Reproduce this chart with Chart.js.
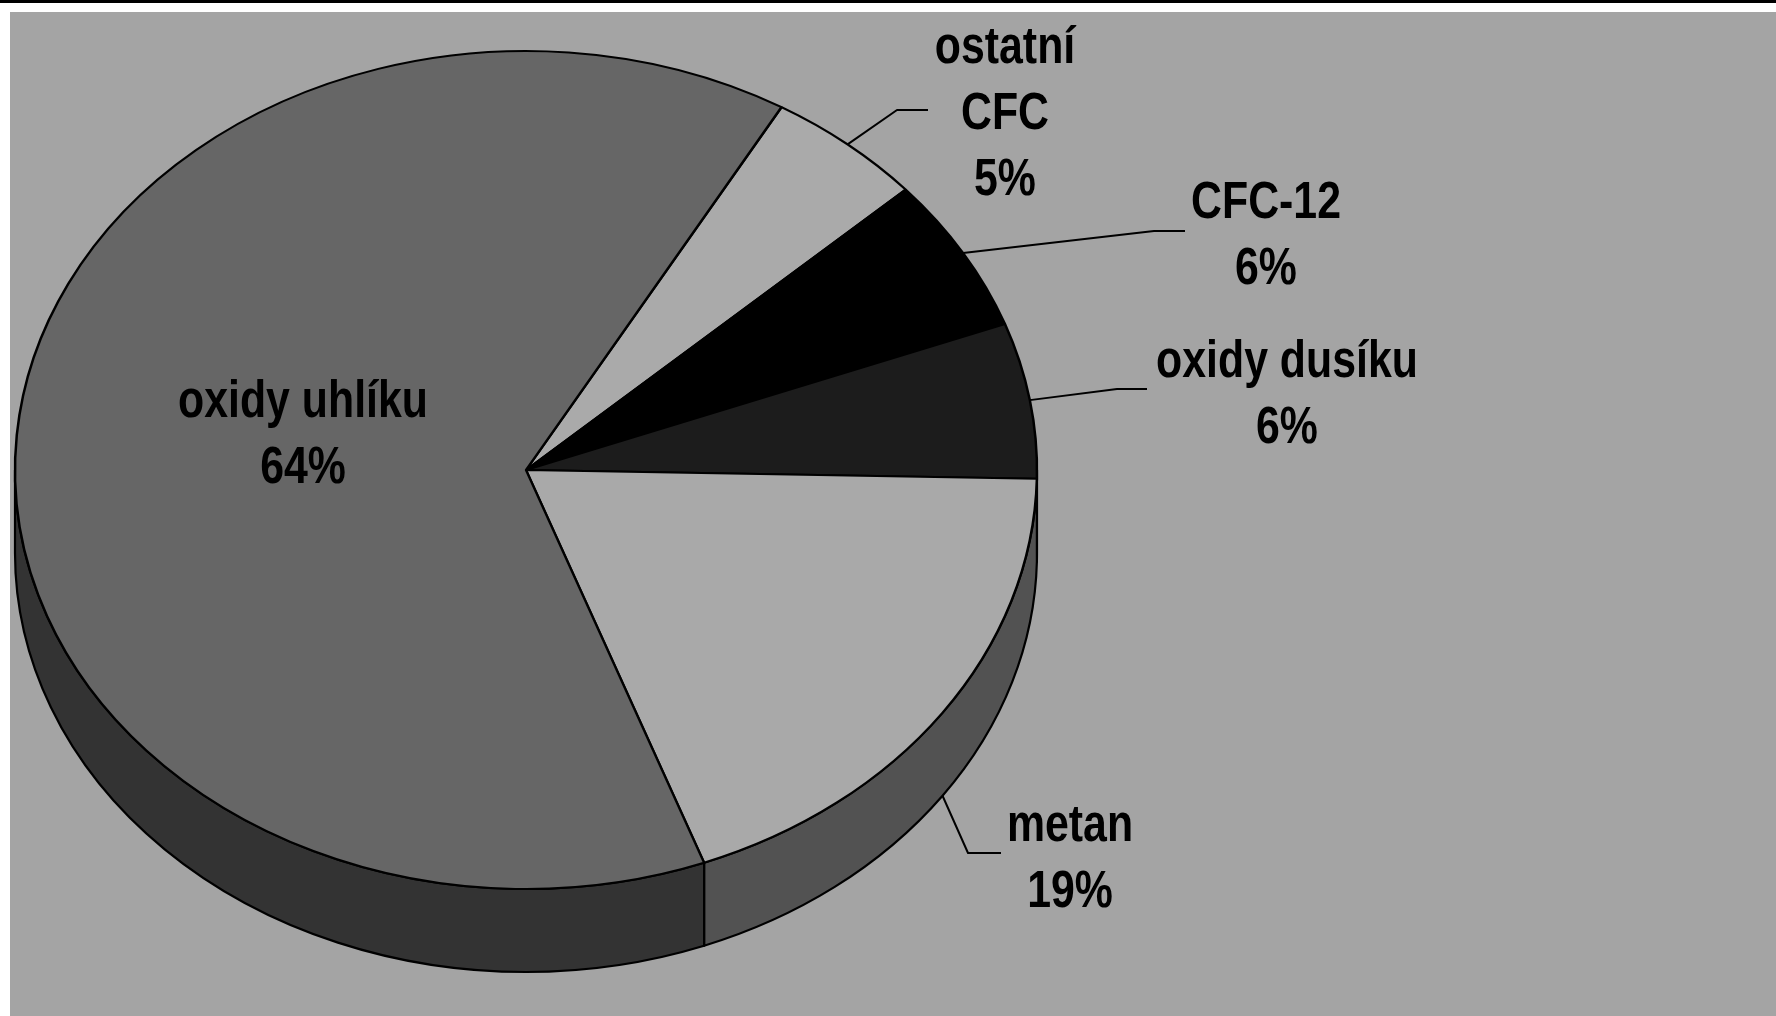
<!DOCTYPE html>
<html>
<head>
<meta charset="utf-8">
<title>Skleníkové plyny</title>
<script src="https://cdn.jsdelivr.net/npm/chart.js@4.4.1/dist/chart.umd.min.js"></script>
<style>
  html, body { margin: 0; padding: 0; background: #fff; overflow: hidden; }
  canvas { display: block; }
</style>
</head>
<body>
<canvas id="myChart" width="1776" height="1016"></canvas>
<script>
// shares of the greenhouse gases, clockwise from the top
const categories = ['ostatní CFC', 'CFC-12', 'oxidy dusíku', 'metan', 'oxidy uhlíku'];
const shares = [5, 6, 6, 19, 64];

const topColors = ['#aaaaaa', '#000000', '#1c1c1c', '#a9a9a9', '#666666'];
const sideColors = ['#555555', '#000000', '#0e0e0e', '#525252', '#333333'];

// label placement: centre x, first baseline, leader elbow and leader end
const labelSpots = [
    {x: 1005, y: 63, wrap: true, elbow: [897, 110], end: 928},
    {x: 1266, y: 218, elbow: [1154, 231], end: 1185},
    {x: 1287, y: 377, elbow: [1117, 389], end: 1147},
    {x: 1070, y: 841, elbow: [968, 853], end: 1001},
    {x: 303, y: 417}
];

const TILT = 0.82;   // squash of the pie top
const DEPTH = 83;    // thickness of the pie on screen
const LINE_H = 66;

const framePlugin = {
    id: 'frame',
    beforeDraw(chart) {
        const ctx = chart.ctx;
        ctx.save();
        ctx.fillStyle = '#ffffff';
        ctx.fillRect(0, 0, chart.width, chart.height);
        ctx.fillStyle = '#000000';
        ctx.fillRect(0, 0, chart.width, 3);
        ctx.fillStyle = '#a4a4a4';
        ctx.fillRect(10, 12, chart.width - 10, chart.height - 12);
        ctx.restore();
    }
};

const tiltPlugin = {
    id: 'tilt',
    beforeDatasetsDraw(chart) {
        const ctx = chart.ctx;
        const arcs = chart.getDatasetMeta(0).data;
        const cx = arcs[0].x, cy = arcs[0].y;
        const d = DEPTH / TILT;

        // side walls: only the front half (0..PI) shows
        arcs.forEach((arc, i) => {
            [0, 2 * Math.PI].forEach(shift => {
                const a = Math.max(arc.startAngle, shift);
                const b = Math.min(arc.endAngle, shift + Math.PI);
                if (b <= a) return;
                ctx.save();
                ctx.translate(cx, cy);
                ctx.scale(1, TILT);
                ctx.translate(-cx, -cy);
                ctx.beginPath();
                ctx.arc(cx, cy, arc.outerRadius, a, b);
                ctx.arc(cx, cy + d, arc.outerRadius, b, a, true);
                ctx.closePath();
                ctx.restore();
                ctx.fillStyle = sideColors[i];
                ctx.fill();
                ctx.lineWidth = 2.2;
                ctx.strokeStyle = '#000000';
                ctx.lineJoin = 'round';
                ctx.stroke();
            });
        });

        // top faces get drawn squashed
        ctx.save();
        ctx.translate(cx, cy);
        ctx.scale(1, TILT);
        ctx.translate(-cx, -cy);
    },
    afterDatasetsDraw(chart) {
        const ctx = chart.ctx;
        ctx.restore();

        const arcs = chart.getDatasetMeta(0).data;
        ctx.save();
        ctx.fillStyle = '#000000';
        ctx.strokeStyle = '#000000';
        ctx.lineWidth = 2;
        ctx.font = 'bold 51px "Liberation Sans", Arial, sans-serif';
        ctx.textAlign = 'center';
        ctx.textBaseline = 'alphabetic';

        arcs.forEach((arc, i) => {
            const spot = labelSpots[i];
            if (spot.elbow) {
                const mid = (arc.startAngle + arc.endAngle) / 2;
                let ax = arc.x + arc.outerRadius * Math.cos(mid);
                let ay = arc.y + TILT * arc.outerRadius * Math.sin(mid);
                if (Math.sin(mid) > 0.05) ay += DEPTH;
                ctx.beginPath();
                ctx.moveTo(ax, ay);
                ctx.lineTo(spot.elbow[0], spot.elbow[1]);
                ctx.lineTo(spot.end, spot.elbow[1]);
                ctx.stroke();
            }
            const name = categories[i];
            const lines = spot.wrap ? name.split(' ') : [name];
            lines.push(shares[i] + '%');
            lines.forEach((t, j) => {
                ctx.save();
                ctx.translate(spot.x, spot.y + j * LINE_H);
                ctx.scale(0.84, 1);
                ctx.fillText(t, 0, 0);
                ctx.restore();
            });
        });
        ctx.restore();
    }
};

const ctx = document.getElementById('myChart').getContext('2d');
const myChart = new Chart(ctx, {
    type: 'pie',
    data: {
        labels: categories,
        datasets: [{
            data: shares,
            backgroundColor: topColors,
            borderColor: '#000000',
            borderWidth: 2.5,
            radius: 511,
            clip: false,
            hoverOffset: 0
        }]
    },
    options: {
        responsive: false,
        animation: false,
        rotation: 30,
        layout: {
            padding: {left: 0, right: 724, top: 0, bottom: 76}
        },
        plugins: {
            legend: {display: false},
            tooltip: {enabled: false}
        },
        events: []
    },
    plugins: [framePlugin, tiltPlugin]
});
</script>
</body>
</html>
